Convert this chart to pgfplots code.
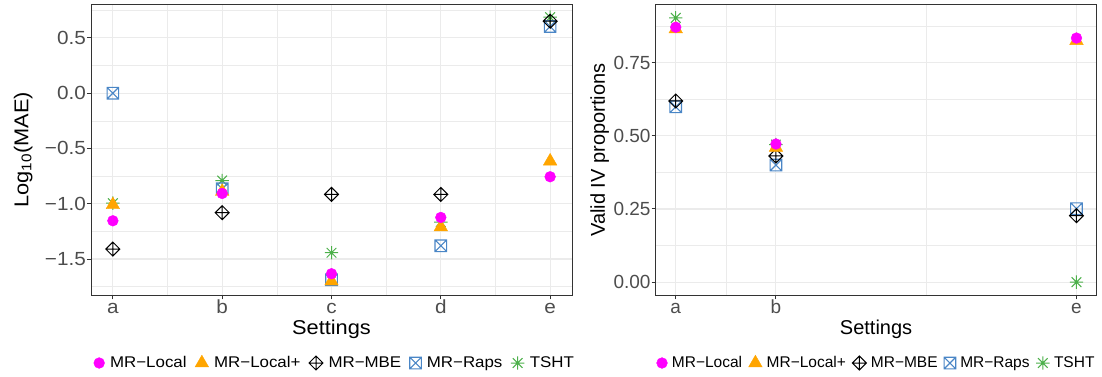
\documentclass[border=0pt]{standalone}
\usepackage{pgfplots}
\pgfplotsset{compat=1.18}
\usepackage{fontspec}
\setmainfont{Liberation Sans}
\newfontfamily\lfont[FakeStretch=1.09]{Liberation Sans}
\newfontfamily\rfont{Liberation Sans}
\definecolor{cLocal}{HTML}{FF00FF}
\definecolor{cLocalP}{HTML}{FFA500}
\definecolor{cRaps}{HTML}{4A86C6}
\definecolor{cTSHT}{HTML}{4CB04A}
\definecolor{gridc}{HTML}{EBEBEB}
\definecolor{framec}{HTML}{333333}
\definecolor{tickc}{HTML}{4D4D4D}

\pgfdeclareplotmark{diamplus}{%
  \pgfpathmoveto{\pgfqpoint{\pgfplotmarksize}{0pt}}%
  \pgfpathlineto{\pgfqpoint{0pt}{\pgfplotmarksize}}%
  \pgfpathlineto{\pgfqpoint{-\pgfplotmarksize}{0pt}}%
  \pgfpathlineto{\pgfqpoint{0pt}{-\pgfplotmarksize}}%
  \pgfpathclose
  \pgfpathmoveto{\pgfqpoint{\pgfplotmarksize}{0pt}}%
  \pgfpathlineto{\pgfqpoint{-\pgfplotmarksize}{0pt}}%
  \pgfpathmoveto{\pgfqpoint{0pt}{\pgfplotmarksize}}%
  \pgfpathlineto{\pgfqpoint{0pt}{-\pgfplotmarksize}}%
  \pgfusepathqstroke}
\pgfdeclareplotmark{sqx}{%
  \pgfpathrectangle{\pgfqpoint{-\pgfplotmarksize}{-\pgfplotmarksize}}{\pgfqpoint{2\pgfplotmarksize}{2\pgfplotmarksize}}%
  \pgfpathmoveto{\pgfqpoint{-\pgfplotmarksize}{-\pgfplotmarksize}}%
  \pgfpathlineto{\pgfqpoint{\pgfplotmarksize}{\pgfplotmarksize}}%
  \pgfpathmoveto{\pgfqpoint{-\pgfplotmarksize}{\pgfplotmarksize}}%
  \pgfpathlineto{\pgfqpoint{\pgfplotmarksize}{-\pgfplotmarksize}}%
  \pgfusepathqstroke}
\pgfdeclareplotmark{ast8}{%
  \pgfpathmoveto{\pgfqpoint{-\pgfplotmarksize}{0pt}}%
  \pgfpathlineto{\pgfqpoint{\pgfplotmarksize}{0pt}}%
  \pgfpathmoveto{\pgfqpoint{0pt}{-\pgfplotmarksize}}%
  \pgfpathlineto{\pgfqpoint{0pt}{\pgfplotmarksize}}%
  \pgfpathmoveto{\pgfqpoint{-0.72\pgfplotmarksize}{-0.72\pgfplotmarksize}}%
  \pgfpathlineto{\pgfqpoint{0.72\pgfplotmarksize}{0.72\pgfplotmarksize}}%
  \pgfpathmoveto{\pgfqpoint{-0.72\pgfplotmarksize}{0.72\pgfplotmarksize}}%
  \pgfpathlineto{\pgfqpoint{0.72\pgfplotmarksize}{-0.72\pgfplotmarksize}}%
  \pgfusepathqstroke}

\pgfplotsset{
  mleg/.style={legend image code/.code={\draw[##1] plot coordinates {(0pt,0pt)};}},
  sLocal/.style={only marks, mleg, mark=*, mark size=5.4pt, color=cLocal},
  sLocalP/.style={only marks, mleg, mark=triangle*, mark size=7.8pt, color=cLocalP},
  sMBE/.style={only marks, mleg, mark=diamplus, mark size=7pt, color=black, line width=1pt},
  sRaps/.style={only marks, mleg, mark=sqx, mark size=5.8pt, color=cRaps, line width=1.1pt},
  sTSHT/.style={only marks, mleg, mark=ast8, mark size=6.7pt, color=cTSHT, line width=1pt},
  common/.style={
    scale only axis, height=290.6pt,
    axis line style={draw=framec, line width=1pt},
    xtick pos=bottom, ytick pos=left, tick align=outside, major tick length=4pt, minor tick length=0pt,
    major tick style={draw=framec, line width=1pt},
    xmajorgrids, ymajorgrids, xminorgrids, yminorgrids,
    major grid style={draw=gridc, line width=1.1pt},
    minor grid style={draw=gridc, line width=0.55pt},
    xmin=0.8, xmax=5.2,
    reverse legend,
    legend columns=5,
    legend style={draw=none, fill=none, anchor=center},
    xticklabel style={anchor=base, yshift=-14.7pt, text=tickc},
    yticklabel style={anchor=east, inner sep=0pt, xshift=-1pt, text=tickc},
    every axis x label/.style={at={(axis description cs:0.5,0)}, anchor=center, yshift=-34pt},
  },
}

\begin{document}
\begin{tikzpicture}[x=1pt,y=1pt]
\path[use as bounding box] (0,0) rectangle (1102,377);

% ---------- Left panel ----------
\begin{axis}[common,
  at={(91pt,81.7pt)}, anchor=south west, width=481pt,
  ymin=-1.828, ymax=0.80,
  xtick={1,2,3,4,5}, xticklabels={a,b,c,d,e},
  minor xtick={1.5,2.5,3.5,4.5},
  ytick={-1.5,-1,-0.5,0,0.5}, yticklabels={−1.5,−1.0,−0.5,0.0,0.5},
  minor ytick={-1.75,-1.25,-0.75,-0.25,0.25,0.75},
  ticklabel style={font=\lfont\fontsize{19}{21}\selectfont},
  xlabel={Settings}, ylabel={Log\textsubscript{10}(MAE)},
  label style={font=\lfont\fontsize{20}{22}\selectfont},
  every axis y label/.style={at={(axis description cs:0,0.5)}, rotate=90, anchor=center, yshift=67.8pt, font=\lfont\fontsize{20}{22}\selectfont},
  legend style={at={(0.507,-0.233)}, font=\lfont\fontsize{15.5}{17}\selectfont,
    /tikz/every odd column/.append style={column sep=3.5pt},
    /tikz/every even column/.append style={column sep=6.5pt}},
]
\addplot[sTSHT] coordinates {(1,-0.995) (2,-0.79) (3,-1.443) (4,-1.166) (5,0.687)};
\addlegendentry{TSHT}
\addplot[sRaps] coordinates {(1,0.0) (2,-0.865) (3,-1.687) (4,-1.38) (5,0.603)};
\addlegendentry{MR−Raps}
\addplot[sMBE] coordinates {(1,-1.41) (2,-1.081) (3,-0.916) (4,-0.916) (5,0.651)};
\addlegendentry{MR−MBE}
\addplot[sLocalP] coordinates {(1,-1.01) (2,-0.89) (3,-1.70) (4,-1.21) (5,-0.615)};
\addlegendentry{MR−Local+}
\addplot[sLocal] coordinates {(1,-1.154) (2,-0.907) (3,-1.633) (4,-1.124) (5,-0.756)};
\addlegendentry{MR−Local}
\end{axis}

% ---------- Right panel ----------
\begin{axis}[common,
  at={(655.7pt,81.7pt)}, anchor=south west, width=440.8pt,
  ymin=-0.045, ymax=0.948,
  xtick={1,2,5}, xticklabels={a,b,e},
  minor xtick={1.5,3.5},
  ytick={0,0.25,0.5,0.75}, yticklabels={0.00,0.25,0.50,0.75},
  minor ytick={0.125,0.375,0.625,0.875},
  ticklabel style={font=\rfont\fontsize{19}{21}\selectfont},
  xlabel={Settings}, ylabel={Valid IV proportions},
  label style={font=\rfont\fontsize{20}{22}\selectfont},
  every axis y label/.style={at={(axis description cs:0,0.5)}, rotate=90, anchor=center, yshift=56pt, font=\rfont\fontsize{20}{22}\selectfont},
  legend style={at={(0.501,-0.233)}, font=\rfont\fontsize{15.5}{17}\selectfont,
    /tikz/every odd column/.append style={column sep=2.5pt},
    /tikz/every even column/.append style={column sep=4.5pt}},
]
\addplot[sTSHT] coordinates {(1,0.903) (2,0.47) (5,0.0)};
\addlegendentry{TSHT}
\addplot[sRaps] coordinates {(1,0.599) (2,0.40) (5,0.251)};
\addlegendentry{MR−Raps}
\addplot[sMBE] coordinates {(1,0.619) (2,0.431) (5,0.227)};
\addlegendentry{MR−MBE}
\addplot[sLocalP] coordinates {(1,0.865) (2,0.46) (5,0.825)};
\addlegendentry{MR−Local+}
\addplot[sLocal] coordinates {(1,0.871) (2,0.472) (5,0.834)};
\addlegendentry{MR−Local}
\end{axis}
\end{tikzpicture}
\end{document}
